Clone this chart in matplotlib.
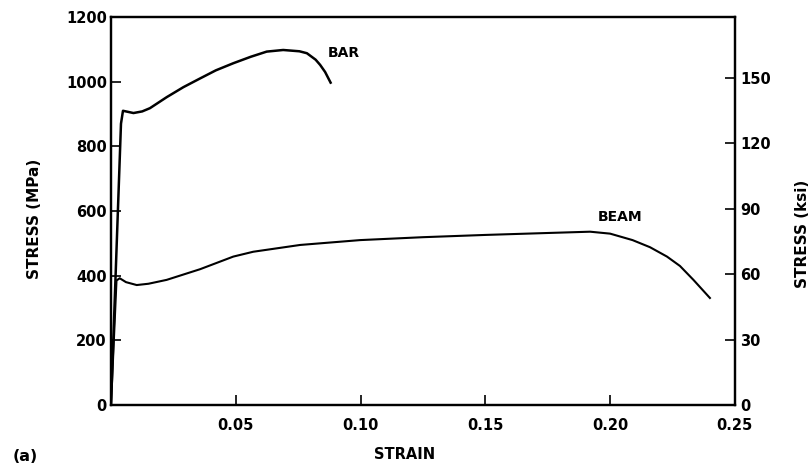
import matplotlib
matplotlib.use("Agg")
import matplotlib.pyplot as plt

plt.rcParams['font.family'] = ['DejaVu Sans']
plt.rcParams['font.weight'] = 'bold'

# Data (strain, stress in MPa)
bar_strain = [0.0, 0.0040, 0.0048, 0.0060, 0.0090, 0.0125, 0.0156, 0.0223, 0.029,
              0.0357, 0.042, 0.049, 0.056, 0.0624, 0.069, 0.0755, 0.0785, 0.082,
              0.0838, 0.0858, 0.088]
bar_stress = [0, 870, 910, 908, 903, 908, 918, 952, 983,
              1010, 1035, 1057, 1077, 1093, 1098, 1094, 1088, 1068,
              1052, 1030, 997]

beam_strain = [0.0, 0.0022, 0.0035, 0.0060, 0.0103, 0.015, 0.0223, 0.0357, 0.049,
               0.057, 0.0758, 0.0998, 0.125, 0.150, 0.175, 0.192, 0.200, 0.209,
               0.216, 0.2228, 0.228, 0.2334, 0.240]
beam_stress = [0, 385, 392, 380, 371, 375, 387, 420, 459,
               474, 495, 510, 519, 526, 532, 536, 530, 510,
               488, 459, 430, 387, 331]

x_ticks = [0.05, 0.10, 0.15, 0.20, 0.25]
x_ticklabels = ["0.05", "0.10", "0.15", "0.20", "0.25"]
mpa_ticks = [0, 200, 400, 600, 800, 1000, 1200]
ksi_ticks = [0, 30, 60, 90, 120, 150]
MPA_PER_KSI = 6.74  # scale as drawn on the original right axis

fig = plt.figure(figsize=(8.12, 4.66), dpi=100)
ax = fig.add_axes([0.1367, 0.1309, 0.7683, 0.8326])

ax.plot(bar_strain, bar_stress, color="black", lw=1.8)
ax.plot(beam_strain, beam_stress, color="black", lw=1.5)

ax.set_xlim(0, 0.25)
ax.set_ylim(0, 1200)
ax.set_xticks(x_ticks)
ax.set_xticklabels(x_ticklabels)
ax.set_yticks(mpa_ticks)
ax.tick_params(direction="in", length=7, width=1.2, labelsize=10.5, pad=3)
ax.tick_params(axis="x", pad=9)
for s in ax.spines.values():
    s.set_linewidth(1.6)

ax.set_ylabel("STRESS (MPa)", fontsize=11, fontweight="bold")
ax.yaxis.set_label_coords(-0.11, 0.48)
ax.set_xlabel("STRAIN", fontsize=10.5, fontweight="bold")
ax.xaxis.set_label_coords(0.47, -0.108)

ax.text(0.0870, 1088, "BAR", fontsize=10, fontweight="bold", ha="left", va="center")
ax.text(0.1950, 580, "BEAM", fontsize=10, fontweight="bold", ha="left", va="center")

ax2 = ax.twinx()
ax2.set_ylim(0, 1200 / MPA_PER_KSI)
ax2.set_yticks(ksi_ticks)
ax2.tick_params(direction="in", length=7, width=1.2, labelsize=10.5, pad=4)
for s in ax2.spines.values():
    s.set_linewidth(1.6)
ax2.set_ylabel("STRESS (ksi)", fontsize=11, fontweight="bold")
ax2.yaxis.set_label_coords(1.097, 0.44)

fig.text(0.015, 0.01, "(a)", fontsize=11.5, fontweight="bold")

fig.savefig("out.png", dpi=100)
